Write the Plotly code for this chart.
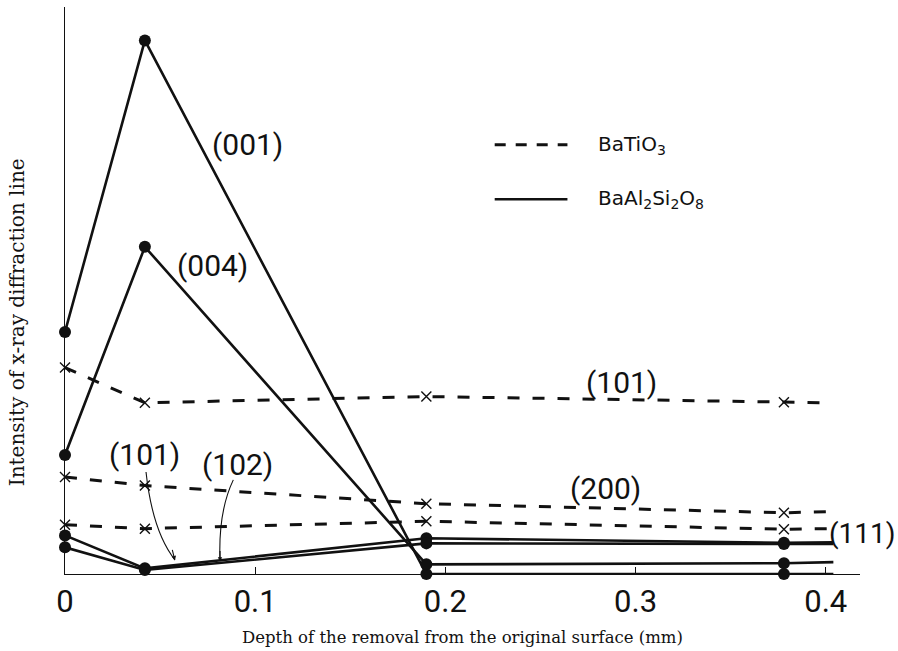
import plotly.graph_objects as go

# ---------------- data ----------------
depth = [0.0, 0.042, 0.19, 0.378]          # mm, measured points
ext_solid = 0.404                           # solid lines drawn on to here
ext_dash = 0.401                            # dashed lines drawn on to here

# BaAl2Si2O8 (solid lines, filled circles)
bas_001 = [42.7, 94.1, 0.0, 0.0]
bas_001_end = 0.0
bas_004 = [21.0, 57.7, 1.7, 1.9]
bas_004_end = 2.1
bas_101 = [6.8, 1.0, 6.3, 5.5]
bas_101_end = 5.6
bas_102 = [4.7, 0.7, 5.4, 5.3]
bas_102_end = 5.3

# BaTiO3 (dashed lines, x markers)
bt_101 = [36.4, 30.2, 31.3, 30.3]
bt_101_end = 30.2
bt_200 = [17.1, 15.6, 12.4, 10.8]
bt_200_end = 11.0
bt_111 = [8.7, 8.0, 9.3, 7.9]
bt_111_end = 8.0

x_ticks = [0, 0.1, 0.2, 0.3, 0.4]
x_tick_text = ["0", "0.1", "0.2", "0.3", "0.4"]

# ---------------- figure ----------------
NARROW = "Roboto, Liberation Sans, sans-serif"
SERIF = "DejaVu Serif, Liberation Serif, serif"
INK = "#111111"

fig = go.Figure()

def solid(vals, end):
    fig.add_trace(go.Scatter(
        x=depth + [ext_solid], y=vals + [end], mode="lines+markers",
        line=dict(color=INK, width=2.6),
        marker=dict(symbol="circle", size=[12, 12, 12, 12, 0], color=INK,
                    opacity=1, line=dict(width=0)),
        cliponaxis=False, showlegend=False))

def dashed(vals, end):
    fig.add_trace(go.Scatter(
        x=depth + [ext_dash], y=vals + [end], mode="lines",
        line=dict(color=INK, width=3, dash="12px,13px"),
        cliponaxis=False, showlegend=False))
    fig.add_trace(go.Scatter(
        x=depth, y=vals, mode="markers",
        marker=dict(symbol="x-thin", size=10, color=INK, opacity=1,
                    line=dict(width=1.4, color=INK)),
        cliponaxis=False, showlegend=False))

for v, e in [(bt_101, bt_101_end), (bt_200, bt_200_end), (bt_111, bt_111_end)]:
    dashed(v, e)
for v, e in [(bas_001, bas_001_end), (bas_004, bas_004_end),
             (bas_101, bas_101_end), (bas_102, bas_102_end)]:
    solid(v, e)

# ---------------- labels ----------------
lab_font = dict(family=NARROW, size=30, color=INK)
labels = [
    ("(001)", 0.0960, 75.8),
    ("(004)", 0.0775, 54.4),
    ("(101)", 0.2925, 33.8),
    ("(200)", 0.2840, 15.0),
    ("(101)", 0.0420, 21.1),
    ("(102)", 0.0905, 19.3),
]
for t, x, y in labels:
    fig.add_annotation(x=x, y=y, text=t, showarrow=False, font=lab_font,
                       xanchor="center", yanchor="middle")
# (111) sits just right of the axis range -> paper x
fig.add_annotation(xref="paper", x=1.0035, y=7.2, text="(111)", showarrow=False,
                   font=dict(family=NARROW, size=28, color=INK),
                   xanchor="center", yanchor="middle")

# curved leader lines for the low (101) and (102) labels
fig.add_shape(type="path", path="M 0.0426,18.0 Q 0.046,7.5 0.0578,2.5",
              line=dict(color=INK, width=1.1))
fig.add_shape(type="path", path="M 0.0885,16.6 Q 0.0805,11.0 0.0815,2.3",
              line=dict(color=INK, width=1.1))
fig.add_annotation(x=0.0578, y=2.4, ax=-3, ay=-12, text="", showarrow=True,
                   arrowhead=2, arrowsize=0.8, arrowwidth=1.1, arrowcolor=INK)
fig.add_annotation(x=0.0815, y=2.2, ax=0, ay=-12, text="", showarrow=True,
                   arrowhead=2, arrowsize=0.8, arrowwidth=1.1, arrowcolor=INK)

# ---------------- legend (drawn manually) ----------------
fig.add_shape(type="line", xref="paper", yref="paper", x0=0.5405, x1=0.632, y0=0.757, y1=0.757,
              line=dict(color=INK, width=3, dash="11px,10px"))
fig.add_shape(type="line", xref="paper", yref="paper", x0=0.5405, x1=0.632, y0=0.661, y1=0.661,
              line=dict(color=INK, width=2.6))
leg_font = dict(family="DejaVu Sans, Noto Sans, sans-serif", size=20, color=INK)
fig.add_annotation(xref="paper", yref="paper", x=0.668, y=0.757, text="BaTiO<sub>3</sub>",
                   showarrow=False, xanchor="left", yanchor="middle", font=leg_font)
fig.add_annotation(xref="paper", yref="paper", x=0.668, y=0.661,
                   text="BaAl<sub>2</sub>Si<sub>2</sub>O<sub>8</sub>",
                   showarrow=False, xanchor="left", yanchor="middle", font=leg_font)

# y-axis title (placed as in the original, a little below the axis centre)
fig.add_annotation(xref="paper", yref="paper", x=-0.0604, y=0.444,
                   text="Intensity of x-ray diffraction line", textangle=-90,
                   showarrow=False, xanchor="center", yanchor="middle",
                   font=dict(family=SERIF, size=20, color=INK))

# ---------------- axes ----------------
fig.update_xaxes(range=[0, 0.418], tickvals=x_ticks, ticktext=x_tick_text,
                 showline=True, linecolor=INK, linewidth=1.3,
                 ticks="inside", ticklen=7, tickwidth=1.2, tickcolor=INK,
                 showgrid=False, zeroline=False,
                 tickfont=dict(family=NARROW, size=31, color=INK),
                 title=dict(text="Depth of the removal from the original surface (mm)",
                            font=dict(family=SERIF, size=16.5, color=INK),
                            standoff=12))
fig.update_yaxes(range=[0, 100], showline=True, linecolor=INK, linewidth=1.3,
                 showticklabels=False, ticks="", showgrid=False, zeroline=False)

fig.update_layout(width=898, height=651, plot_bgcolor="white", paper_bgcolor="white",
                  margin=dict(l=65, r=38, t=7, b=72), showlegend=False)

fig.write_html("out.html")
